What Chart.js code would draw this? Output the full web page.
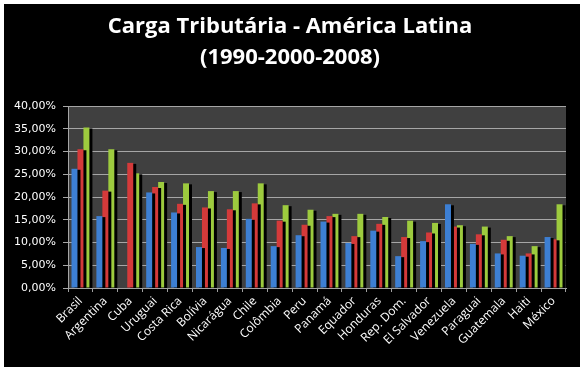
<!DOCTYPE html>
<html><head><meta charset="utf-8">
<script src="https://cdn.jsdelivr.net/npm/chart.js@4/dist/chart.umd.min.js"></script>
<style>
html,body{margin:0;padding:0;background:#fff;}
#wrap{position:absolute;left:4px;top:4px;width:576px;height:363px;background:#000;}
</style></head><body>
<div id="wrap"><canvas id="c" width="576" height="363"></canvas></div>
<script>
const titleLines = ['Carga Tributária - América Latina', '(1990-2000-2008)'];
const categories = ['Brasil','Argentina','Cuba','Uruguai','Costa Rica','Bolívia','Nicarágua','Chile','Colômbia','Peru','Panamá','Equador','Honduras','Rep. Dom.','El Salvador','Venezuela','Paraguai','Guatemala','Haiti','México'];
const seriesNames = ['1990','2000','2008'];
const values1990 = [26.2,15.8,null,21.0,16.6,9.0,8.8,15.2,9.2,11.6,14.6,9.9,12.6,7.0,10.3,18.4,9.7,7.6,7.1,11.2];
const values2000 = [30.5,21.4,27.5,22.2,18.5,17.7,17.3,18.6,14.8,13.9,15.8,11.4,14.1,11.2,12.2,13.5,11.8,10.6,7.6,10.7];
const values2008 = [35.3,30.5,25.2,23.3,23.0,21.3,21.3,23.0,18.2,17.2,16.3,16.3,15.6,14.8,14.3,13.8,13.5,11.4,9.2,18.4];
const yTicks = [0,5,10,15,20,25,30,35,40];

const bgPlugin = {
  id:'bg',
  beforeDraw(chart){
    const {ctx, chartArea:a} = chart;
    ctx.save();
    ctx.fillStyle = '#404040';
    ctx.fillRect(a.left, a.top, a.right-a.left, a.bottom-a.top);
    ctx.restore();
  },
  beforeDatasetsDraw(chart){
    const ctx = chart.ctx;
    ctx.save();
    ctx.shadowColor = '#000';
    ctx.shadowOffsetX = 3;
    ctx.shadowOffsetY = 1;
    ctx.shadowBlur = 0;
  },
  afterDatasetsDraw(chart){
    chart.ctx.restore();
  },
  afterDraw(chart){
    const ctx = chart.ctx;
    ctx.save();
    ctx.fillStyle = '#fff';
    ctx.textAlign = 'center';
    ctx.textBaseline = 'alphabetic';
    ctx.font = 'bold 22px "Open Sans"';
    ctx.fillText(titleLines[0], 286, 29);
    ctx.fillText(titleLines[1], 286, 60);
    ctx.restore();
  }
};

new Chart(document.getElementById('c'), {
  type:'bar',
  data:{
    labels: categories,
    datasets:[
      {label:seriesNames[0], data:values1990, backgroundColor:'#3d7fd3'},
      {label:seriesNames[1], data:values2000, backgroundColor:'#d43a3a'},
      {label:seriesNames[2], data:values2008, backgroundColor:'#9dcb3e'}
    ]
  },
  options:{
    responsive:false,
    animation:false,
    events:[],
    layout:{padding:{top:102,right:14,left:0,bottom:0}},
    datasets:{bar:{barPercentage:1, categoryPercentage:0.72}},
    plugins:{legend:{display:false}, tooltip:{enabled:false}, title:{display:false}},
    scales:{
      x:{
        grid:{offset:true, drawOnChartArea:false, color:'#a0a0a0', tickLength:4},
        border:{color:'#a0a0a0'},
        ticks:{color:'#fff', maxRotation:45, minRotation:45, autoSkip:false, padding:2,
          font:{family:'"Open Sans"', size:12}},
        afterFit(s){ s.height = 79; }
      },
      y:{
        min:0, max:40,
        afterBuildTicks(s){ s.ticks = yTicks.map(v=>({value:v})); },
        grid:{color:'#a6a6a6', tickLength:5},
        border:{color:'#a6a6a6'},
        ticks:{color:'#fff', padding:7, font:{family:'"DejaVu Sans"', size:11},
          callback:v=>v.toFixed(2).replace('.',',')+'%'},
        afterFit(s){ s.width = 64; }
      }
    }
  },
  plugins:[bgPlugin]
});
</script>
</body></html>
